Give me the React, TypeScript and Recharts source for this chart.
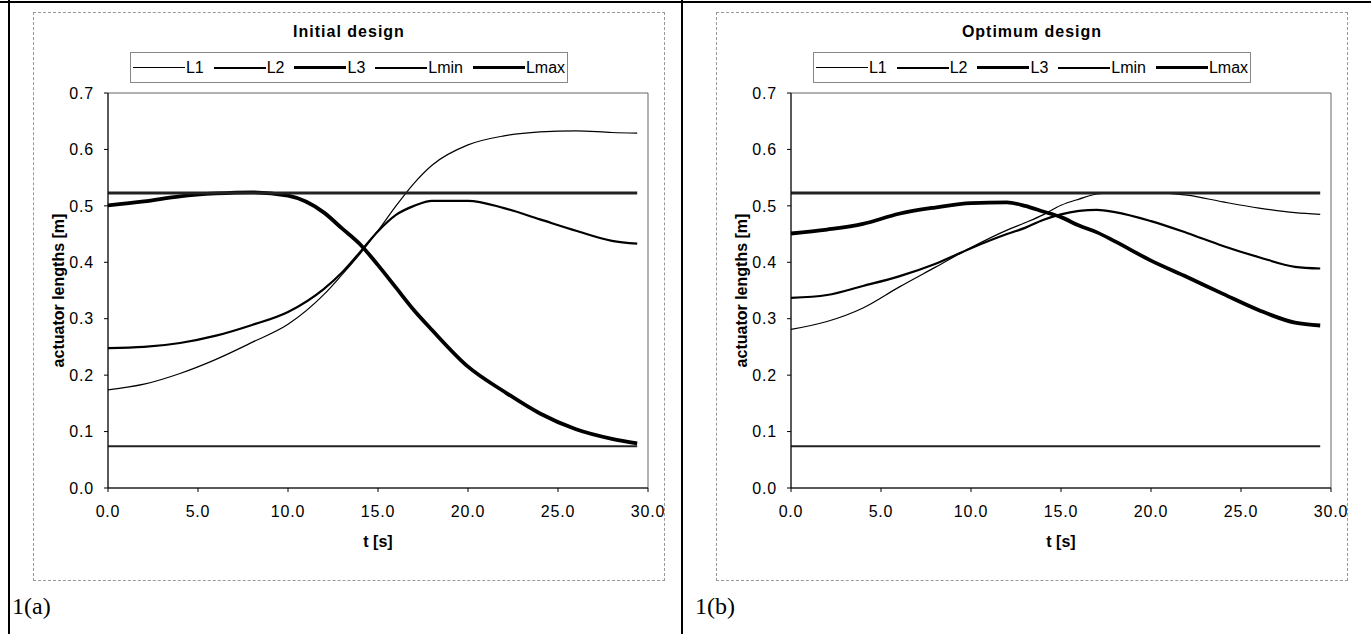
import React from 'react';
import { LineChart, Line, XAxis, YAxis, Legend, ReferenceArea, Label } from 'recharts';

// time samples [s]
const TIME = [0, 2, 4, 6, 8, 10, 12, 13, 14, 15, 16, 17, 18, 20, 22, 24, 26, 28, 29.4];

// 1(a) initial design
const INITIAL_L1 = [0.174, 0.184, 0.203, 0.228, 0.258, 0.29, 0.343, 0.378, 0.415, 0.456, 0.5, 0.54, 0.572, 0.608, 0.624, 0.631, 0.633, 0.63, 0.629];
const INITIAL_L2 = [0.248, 0.25, 0.257, 0.27, 0.289, 0.312, 0.353, 0.382, 0.418, 0.455, 0.484, 0.5, 0.509, 0.509, 0.496, 0.476, 0.456, 0.438, 0.433];
const INITIAL_L3 = [0.501, 0.508, 0.517, 0.522, 0.524, 0.518, 0.488, 0.46, 0.432, 0.395, 0.355, 0.315, 0.28, 0.215, 0.171, 0.132, 0.104, 0.087, 0.079];

// 1(b) optimum design
const OPTIMUM_L1 = [0.281, 0.295, 0.319, 0.356, 0.391, 0.426, 0.457, 0.47, 0.484, 0.501, 0.512, 0.521, 0.523, 0.523, 0.519, 0.507, 0.496, 0.488, 0.485];
const OPTIMUM_L2 = [0.337, 0.342, 0.358, 0.375, 0.397, 0.425, 0.45, 0.461, 0.475, 0.485, 0.491, 0.493, 0.489, 0.473, 0.452, 0.429, 0.409, 0.392, 0.389];
const OPTIMUM_L3 = [0.451, 0.458, 0.468, 0.486, 0.497, 0.505, 0.506, 0.5, 0.49, 0.48, 0.465, 0.453, 0.437, 0.403, 0.374, 0.344, 0.315, 0.293, 0.288];

// actuator stroke limits (same in both designs)
const L_MIN = 0.074;
const L_MAX = 0.523;

const X_TICKS = [0, 5, 10, 15, 20, 25, 30];
const Y_TICKS = [0, 0.1, 0.2, 0.3, 0.4, 0.5, 0.6, 0.7];

const SERIES = [
  { key: 'l1', name: 'L1', width: 1.2, color: '#000' },
  { key: 'l2', name: 'L2', width: 2.2, color: '#000' },
  { key: 'l3', name: 'L3', width: 3.8, color: '#000' },
  { key: 'lmin', name: 'Lmin', width: 2, color: '#222' },
  { key: 'lmax', name: 'Lmax', width: 3, color: '#222' },
];

const FONT = '"Liberation Sans", Arial, sans-serif';
const CHART_W = 630;
const CHART_H = 567;

const buildRows = (l1: number[], l2: number[], l3: number[]) =>
  TIME.map((t, i) => ({ t, l1: l1[i], l2: l2[i], l3: l3[i], lmin: L_MIN, lmax: L_MAX }));

const initialRows = buildRows(INITIAL_L1, INITIAL_L2, INITIAL_L3);
const optimumRows = buildRows(OPTIMUM_L1, OPTIMUM_L2, OPTIMUM_L3);

// Excel-like boxed legend with the chart title above it
const legendContent = (title: string) => (props: any) => {
  const payload = props.payload || [];
  const shown = SERIES.filter((s) => payload.some((p: any) => p.value === s.name));
  return (
    <div style={{ width: CHART_W, fontFamily: FONT, color: '#000' }}>
      <div style={{ marginTop: 9, height: 20, lineHeight: '20px', textAlign: 'center', fontWeight: 'bold', fontSize: 16, letterSpacing: 1 }}>
        {title}
      </div>
      <div
        style={{
          margin: '10px auto 0',
          width: 436,
          height: 29,
          border: '1px solid #888',
          display: 'flex',
          alignItems: 'center',
          justifyContent: 'center',
          gap: 10,
          fontSize: 16,
        }}
      >
        {shown.map((s) => (
          <span key={s.name} style={{ display: 'flex', alignItems: 'center' }}>
            <span style={{ display: 'inline-block', width: 52, borderTop: `${s.width}px solid #000` }} />
            <span style={{ marginLeft: 1 }}>{s.name}</span>
          </span>
        ))}
      </div>
    </div>
  );
};

const tickStyle = { fontSize: 16, fill: '#000', fontFamily: FONT, letterSpacing: 0.8 };
const labelStyle = { fontSize: 16, fontWeight: 'bold' as const, fill: '#000', fontFamily: FONT, textAnchor: 'middle' as const };

const Panel = ({ title, rows, left, caption }: { title: string; rows: any[]; left: number; caption: string }) => (
  <>
    <div style={{ position: 'absolute', left, top: 12, border: '1px dashed #999', width: CHART_W, height: CHART_H }}>
      <LineChart width={CHART_W} height={CHART_H} data={rows} margin={{ top: 80, right: 16, bottom: 32, left: 24 }}>
        <ReferenceArea x1={0} x2={30} y1={0} y2={0.7} fill="none" stroke="#666" strokeWidth={1} />
        <XAxis
          dataKey="t"
          type="number"
          domain={[0, 30]}
          ticks={X_TICKS}
          tickFormatter={(v: number) => v.toFixed(1)}
          tick={tickStyle}
          tickSize={4}
          tickMargin={14}
          axisLine={{ stroke: '#000' }}
          tickLine={{ stroke: '#000' }}
          height={60}
        >
          <Label value="t [s]" position="insideBottom" offset={1} style={labelStyle} />
        </XAxis>
        <YAxis
          type="number"
          domain={[0, 0.7]}
          ticks={Y_TICKS}
          tickFormatter={(v: number) => v.toFixed(1)}
          tick={tickStyle}
          tickSize={4}
          tickMargin={10}
          axisLine={{ stroke: '#000' }}
          tickLine={{ stroke: '#000' }}
          width={50}
        >
          <Label value="actuator lengths [m]" angle={-90} position="insideLeft" offset={0} style={labelStyle} />
        </YAxis>
        <Legend
          verticalAlign="middle"
          align="center"
          wrapperStyle={{ top: 0, left: 0, width: CHART_W }}
          content={legendContent(title)}
        />
        {SERIES.map((s) => (
          <Line
            key={s.key}
            type="monotone"
            dataKey={s.key}
            name={s.name}
            stroke={s.color}
            strokeWidth={s.width}
            dot={false}
            activeDot={false}
            isAnimationActive={false}
          />
        ))}
      </LineChart>
    </div>
    <div
      style={{
        position: 'absolute',
        left: left - 21,
        top: 593,
        fontFamily: '"Liberation Serif", "Times New Roman", serif',
        fontSize: 24,
        color: '#000',
      }}
    >
      {caption}
    </div>
  </>
);

export default function App() {
  return (
    <div style={{ position: 'absolute', left: 0, top: 0, width: 1371, height: 634, background: '#fff', overflow: 'hidden' }}>
      <div style={{ position: 'absolute', left: 0, top: 1, width: 1371, height: 2, background: '#000' }} />
      <div style={{ position: 'absolute', left: 8, top: 0, width: 2, height: 634, background: '#000' }} />
      <div style={{ position: 'absolute', left: 681, top: 0, width: 2, height: 634, background: '#000' }} />
      <Panel title="Initial design" rows={initialRows} left={33} caption="1(a)" />
      <Panel title="Optimum design" rows={optimumRows} left={716} caption="1(b)" />
    </div>
  );
}
